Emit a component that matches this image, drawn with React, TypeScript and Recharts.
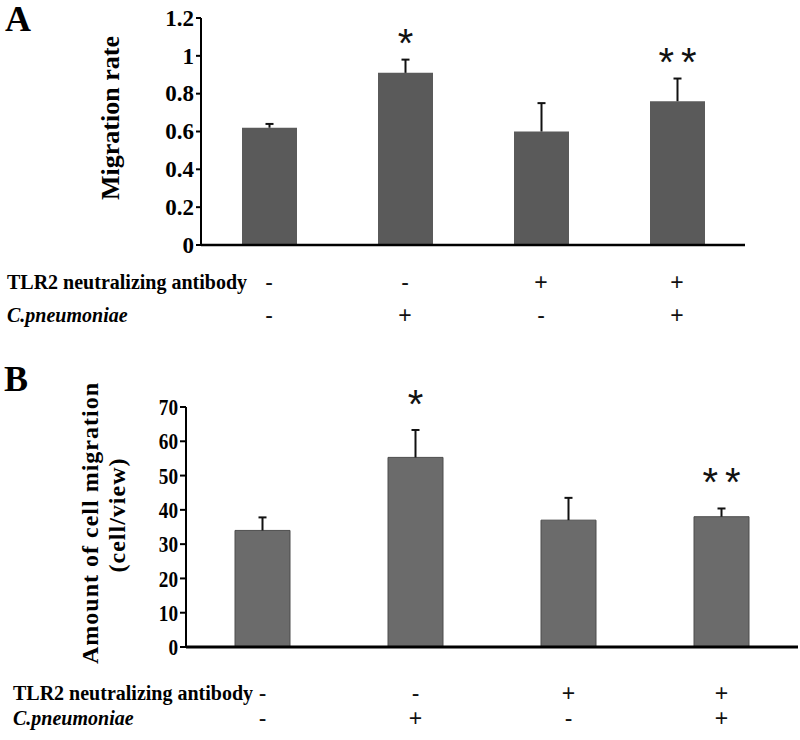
import React from 'react';
import { BarChart, Bar, XAxis, YAxis, LabelList } from 'recharts';

const groups = ['G1', 'G2', 'G3', 'G4'];
const antibody = ['-', '-', '+', '+'];
const pneumoniae = ['-', '+', '-', '+'];
const significance = ['', '*', '', '**'];

const migrationRate = [0.62, 0.91, 0.6, 0.76];
const migrationRateErr = [0.02, 0.07, 0.15, 0.12];
const cellCount = [34, 55.3, 37, 38];
const cellCountErr = [3.8, 8, 6.5, 2.4];

const rateTicks = [0, 0.2, 0.4, 0.6, 0.8, 1, 1.2];
const countTicks = [0, 10, 20, 30, 40, 50, 60, 70];

const dataA = groups.map((g, i) => ({ group: g, value: migrationRate[i] }));
const dataB = groups.map((g, i) => ({ group: g, value: cellCount[i] }));

const serif = '"Liberation Serif", "Times New Roman", serif';
const sans = '"Liberation Sans", Arial, sans-serif';

// draws the condition rows (+/-) under each bar, row titles at the first tick
const makeCatTick = (row1Y: number, row2Y: number, titleX: number) => (props: any) => {
  const { x, index } = props;
  return (
    <g>
      {index === 0 && (
        <>
          <text x={titleX} y={row1Y} fontFamily={serif} fontWeight="bold" fontSize={20} fill="#000">
            TLR2 neutralizing antibody
          </text>
          <text x={titleX} y={row2Y} fontFamily={serif} fontWeight="bold" fontStyle="italic" fontSize={20} fill="#000">
            C.pneumoniae
          </text>
        </>
      )}
      <text x={x} y={row1Y + 1} textAnchor="middle" fontFamily={sans} fontSize={23} fill="#111">
        {antibody[index]}
      </text>
      <text x={x} y={row2Y + 1} textAnchor="middle" fontFamily={sans} fontSize={23} fill="#111">
        {pneumoniae[index]}
      </text>
    </g>
  );
};

// upward error whisker plus the significance stars above it
const makeErrLabel = (errs: number[], starGap: number) => (props: any) => {
  const { x, y, width, height, value, index } = props;
  const cx = Number(x) + Number(width) / 2;
  const errPx = (errs[index] * Number(height)) / Number(value);
  const top = Number(y) - errPx;
  const sig = significance[index];
  return (
    <g>
      <line x1={cx} y1={Number(y)} x2={cx} y2={top} stroke="#111" strokeWidth={2} />
      <line x1={cx - 4} y1={top} x2={cx + 4} y2={top} stroke="#111" strokeWidth={2} />
      {sig && (
        <text
          x={cx + (sig.length > 1 ? 3.5 : 0)}
          y={top - starGap}
          textAnchor="middle"
          fontFamily={sans}
          fontSize={40}
          letterSpacing={sig.length > 1 ? 7 : 0}
          fill="#111"
        >
          {sig}
        </text>
      )}
    </g>
  );
};

const makeValueTick = (size: number, squeeze: number) => (props: any) => {
  const { x, y, payload } = props;
  return (
    <g transform={`translate(${x},${y}) scale(${squeeze},1)`}>
      <text x={0} y={0} dy={size * 0.34} textAnchor="end" fontFamily={serif} fontWeight="bold" fontSize={size} fill="#000">
        {payload.value}
      </text>
    </g>
  );
};

export default function App() {
  return (
    <div style={{ position: 'absolute', left: 0, top: 0, width: 800, height: 740, background: '#fff' }}>
      <div style={{ position: 'absolute', left: 0, top: 0 }}>
        <BarChart width={800} height={330} data={dataA} margin={{ top: 18, right: 55, left: 0, bottom: 0 }}>
          <XAxis
            dataKey="group"
            height={85}
            interval={0}
            axisLine={{ stroke: '#000', strokeWidth: 2.5 }}
            tickLine={false}
            tick={makeCatTick(289, 322, 7)}
          />
          <YAxis
            width={201}
            domain={[0, 1.2]}
            ticks={rateTicks}
            interval={0}
            axisLine={{ stroke: '#000', strokeWidth: 2 }}
            tickLine={{ stroke: '#000', strokeWidth: 2 }}
            tickSize={5}
            tickMargin={2}
            tick={makeValueTick(23, 1)}
          />
          <Bar dataKey="value" fill="#5a5a5a" barSize={55} isAnimationActive={false}>
            <LabelList dataKey="value" content={makeErrLabel(migrationRateErr, 3)} />
          </Bar>
        </BarChart>
      </div>

      <div style={{ position: 'absolute', left: 0, top: 340 }}>
        <BarChart width={800} height={397} data={dataB} margin={{ top: 67, right: 2, left: 0, bottom: 0 }}>
          <XAxis
            dataKey="group"
            height={90}
            interval={0}
            axisLine={{ stroke: '#000', strokeWidth: 3 }}
            tickLine={false}
            tick={makeCatTick(360, 385, 13)}
          />
          <YAxis
            width={186}
            domain={[0, 70]}
            ticks={countTicks}
            interval={0}
            axisLine={{ stroke: '#000', strokeWidth: 2 }}
            tickLine={{ stroke: '#000', strokeWidth: 2 }}
            tickSize={6}
            tickMargin={2}
            tick={makeValueTick(24, 0.8)}
          />
          <Bar dataKey="value" fill="#6b6b6b" stroke="#4d4d4d" strokeWidth={1} barSize={55} isAnimationActive={false}>
            <LabelList dataKey="value" content={makeErrLabel(cellCountErr, 12)} />
          </Bar>
        </BarChart>
      </div>

      <svg width={800} height={740} style={{ position: 'absolute', left: 0, top: 0, pointerEvents: 'none' }}>
        <text x={5} y={31} fontFamily={serif} fontWeight="bold" fontSize={36} fill="#000">A</text>
        <text x={4} y={391} fontFamily={serif} fontWeight="bold" fontSize={36} fill="#000">B</text>
        <text
          transform="translate(110,118) rotate(-90)"
          textAnchor="middle"
          dominantBaseline="central"
          fontFamily={serif}
          fontWeight="bold"
          fontSize={26}
          fill="#000"
        >
          Migration rate
        </text>
        <text
          transform="translate(90,523) rotate(-90)"
          textAnchor="middle"
          dominantBaseline="central"
          fontFamily={serif}
          fontWeight="bold"
          fontSize={24}
          letterSpacing={1}
          fill="#000"
        >
          Amount of cell migration
        </text>
        <text
          transform="translate(117,515) rotate(-90)"
          textAnchor="middle"
          dominantBaseline="central"
          fontFamily={serif}
          fontWeight="bold"
          fontSize={24}
          letterSpacing={1}
          fill="#000"
        >
          (cell/view)
        </text>
      </svg>
    </div>
  );
}
